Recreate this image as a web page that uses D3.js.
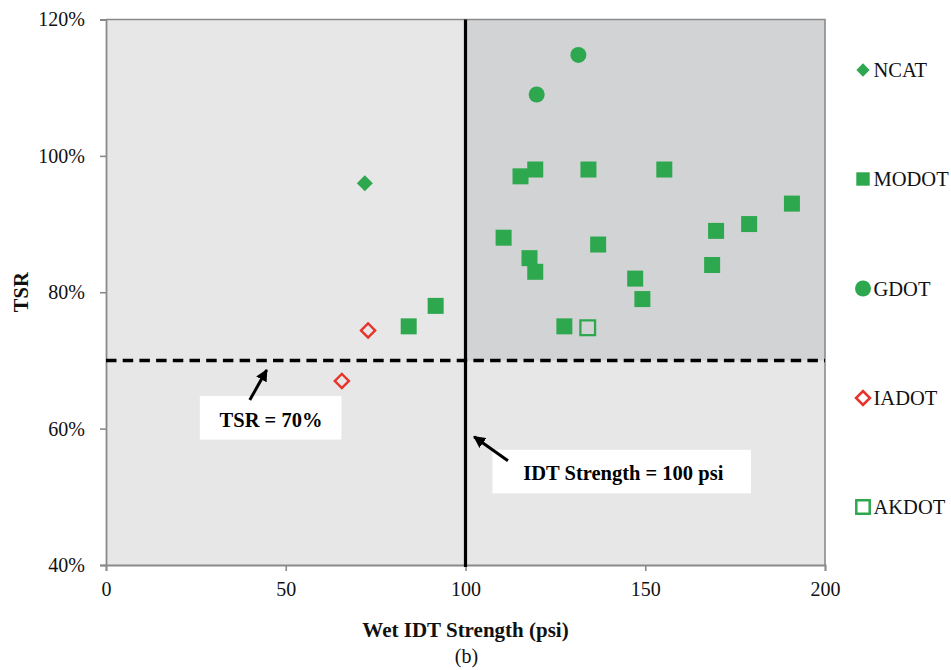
<!DOCTYPE html>
<html>
<head>
<meta charset="utf-8">
<script src="https://cdn.jsdelivr.net/npm/d3@7/dist/d3.min.js"></script>
<style>
  html, body { margin: 0; padding: 0; background: #ffffff; }
  svg { display: block; }
  svg text { font-family: "Liberation Serif", "Times New Roman", Times, "DejaVu Serif", serif; }
</style>
</head>
<body>
<svg id="chart" width="951" height="670"></svg>
<script>
// Wet IDT strength (psi) vs. tensile strength ratio (%) by agency
const ncat  = [[72, 96]];
const modot = [[115.3, 97], [119.4, 98], [134.2, 98], [155.3, 98], [190.8, 93],
               [178.9, 90], [169.7, 89], [110.6, 88], [136.9, 87], [117.8, 85],
               [168.6, 84], [119.4, 83], [147.2, 82], [149.2, 79], [127.5, 75],
               [84.2, 75], [91.7, 78]];
const gdot  = [[131.4, 114.8], [119.8, 109]];
const iadot = [[72.9, 74.4], [65.6, 67]];
const akdot = [[134, 74.8]];

const xTicks = [0, 50, 100, 150, 200];
const yTicks = [40, 60, 80, 100, 120];

const idtLimit = 100;   // psi
const tsrLimit = 70;    // %

const legendNames = ["NCAT", "MODOT", "GDOT", "IADOT", "AKDOT"];

const serif = "'Liberation Serif', 'Times New Roman', Times, serif";
const green = "#2ea84f";
const red = "#e8332a";

const svg = d3.select("#chart");
const m = { left: 106, right: 825, top: 19.5, bottom: 565 };

const x = d3.scaleLinear().domain([0, 200]).range([m.left, m.right]);
const y = d3.scaleLinear().domain([40, 120]).range([m.bottom, m.top]);

// Quadrant backgrounds
svg.append("rect")
  .attr("x", x(0)).attr("y", y(120))
  .attr("width", x(200) - x(0)).attr("height", y(40) - y(120))
  .attr("fill", "#e6e7e6");
svg.append("rect")
  .attr("x", x(idtLimit)).attr("y", y(120))
  .attr("width", x(200) - x(idtLimit)).attr("height", y(tsrLimit) - y(120))
  .attr("fill", "#d2d3d5");

// Plot frame (top and right)
svg.append("path")
  .attr("d", `M${x(0)},${y(120)}H${x(200)}V${y(40)}`)
  .attr("fill", "none").attr("stroke", "#8a8a8a").attr("stroke-width", 1.6);

// Axes
const xAxis = d3.axisBottom(x).tickValues(xTicks).tickSize(6).tickPadding(10.5).tickFormat(d3.format("d"));
const yAxis = d3.axisLeft(y).tickValues(yTicks).tickSize(6).tickPadding(15).tickFormat(d => d + "%");

const gx = svg.append("g").attr("transform", `translate(0,${m.bottom})`).call(xAxis);
const gy = svg.append("g").attr("transform", `translate(${m.left},0)`).call(yAxis);
[gx, gy].forEach(g => {
  g.attr("font-family", serif).attr("font-size", 20);
  g.select(".domain").attr("stroke", "#8a8a8a").attr("stroke-width", 1.8);
  g.selectAll(".tick line").attr("stroke", "#8a8a8a").attr("stroke-width", 1.6);
  g.selectAll(".tick text")
    .attr("fill", "#111")
    .attr("font-family", serif)
    .attr("font-size", 20);
});

// Threshold lines
svg.append("line")
  .attr("x1", x(0)).attr("x2", x(200))
  .attr("y1", y(tsrLimit)).attr("y2", y(tsrLimit))
  .attr("stroke", "#000").attr("stroke-width", 3.5)
  .attr("stroke-dasharray", "10.5,6.2");
svg.append("line")
  .attr("x1", x(idtLimit)).attr("x2", x(idtLimit))
  .attr("y1", y(120)).attr("y2", y(40) + 2)
  .attr("stroke", "#000").attr("stroke-width", 3.2);

// Marker shapes
const sym = (type, size) => d3.symbol().type(type).size(size)();
const markers = {
  NCAT:  { path: sym(d3.symbolSquare, 128), rot: 45, fill: green, stroke: "none", sw: 0 },
  MODOT: { path: sym(d3.symbolSquare, 256), rot: 0,  fill: green, stroke: "none", sw: 0 },
  GDOT:  { path: sym(d3.symbolCircle, 201), rot: 0,  fill: green, stroke: "none", sw: 0 },
  IADOT: { path: sym(d3.symbolSquare, 100), rot: 45, fill: "none", stroke: red, sw: 2.4 },
  AKDOT: { path: sym(d3.symbolSquare, 215), rot: 0,  fill: "none", stroke: green, sw: 2.3 }
};
const legendMarkers = {
  NCAT:  { path: sym(d3.symbolSquare, 88),  rot: 45, fill: green, stroke: "none", sw: 0 },
  MODOT: { path: sym(d3.symbolSquare, 180), rot: 0,  fill: green, stroke: "none", sw: 0 },
  GDOT:  { path: sym(d3.symbolCircle, 201), rot: 0,  fill: green, stroke: "none", sw: 0 },
  IADOT: { path: sym(d3.symbolSquare, 96),  rot: 45, fill: "none", stroke: red, sw: 2.6 },
  AKDOT: { path: sym(d3.symbolSquare, 180), rot: 0,  fill: "none", stroke: green, sw: 2.5 }
};

const series = [
  { name: "NCAT", data: ncat },
  { name: "MODOT", data: modot },
  { name: "GDOT", data: gdot },
  { name: "IADOT", data: iadot },
  { name: "AKDOT", data: akdot }
];

series.forEach(s => {
  const mk = markers[s.name];
  svg.append("g").selectAll("path")
    .data(s.data)
    .join("path")
    .attr("d", mk.path)
    .attr("transform", d => `translate(${x(d[0])},${y(d[1])}) rotate(${mk.rot})`)
    .attr("fill", mk.fill)
    .attr("stroke", mk.stroke)
    .attr("stroke-width", mk.sw);
});

// Annotations (positioned in data units)
svg.append("defs").append("marker")
  .attr("id", "arrowhead")
  .attr("viewBox", "0 0 10 10")
  .attr("refX", 9).attr("refY", 5)
  .attr("markerWidth", 4).attr("markerHeight", 4)
  .attr("orient", "auto")
  .append("path").attr("d", "M0,0L10,5L0,10Z").attr("fill", "#000");

const notes = [
  { text: "TSR = 70%", box: [26.1, 65.5, 64.8, 58.4], tx: 45.9, ty: 60.3,
    arrow: [[40, 64.2], [44.7, 68.6]] },
  { text: "IDT Strength = 100 psi", box: [107.5, 179.4, 56.9, 50.5], tx: 143.9, ty: 52.5,
    arrow: [[111.8, 55.3], [102.4, 58.8]] }
];

notes.forEach(n => {
  svg.append("rect")
    .attr("x", x(n.box[0])).attr("y", y(n.box[2]))
    .attr("width", x(n.box[1]) - x(n.box[0]))
    .attr("height", y(n.box[3]) - y(n.box[2]))
    .attr("fill", "#ffffff");
  svg.append("text")
    .attr("x", x(n.tx)).attr("y", y(n.ty))
    .attr("text-anchor", "middle")
    .attr("font-family", serif)
    .attr("font-size", 20.5).attr("font-weight", "bold")
    .attr("fill", "#000")
    .text(n.text);
  svg.append("line")
    .attr("x1", x(n.arrow[0][0])).attr("y1", y(n.arrow[0][1]))
    .attr("x2", x(n.arrow[1][0])).attr("y2", y(n.arrow[1][1]))
    .attr("stroke", "#000").attr("stroke-width", 3)
    .attr("marker-end", "url(#arrowhead)");
});

// Axis titles
svg.append("text")
  .attr("x", x(100)).attr("y", 636.5)
  .attr("text-anchor", "middle")
  .attr("font-family", serif)
  .attr("font-size", 21).attr("font-weight", "bold")
  .attr("fill", "#111")
  .text("Wet IDT Strength (psi)");
svg.append("text")
  .attr("x", x(100) + 1).attr("y", 663)
  .attr("text-anchor", "middle")
  .attr("font-family", serif)
  .attr("font-size", 20)
  .attr("fill", "#111")
  .text("(b)");
svg.append("text")
  .attr("transform", `translate(28,${y(80)}) rotate(-90)`)
  .attr("text-anchor", "middle")
  .attr("font-family", serif)
  .attr("font-size", 20.5).attr("font-weight", "bold")
  .attr("fill", "#111")
  .text("TSR");

// Legend
const legendY = [70, 179, 288.5, 398, 507];
const legend = svg.append("g");
legendNames.forEach((name, i) => {
  const mk = legendMarkers[name];
  legend.append("path")
    .attr("d", mk.path)
    .attr("transform", `translate(863,${legendY[i]}) rotate(${mk.rot})`)
    .attr("fill", mk.fill)
    .attr("stroke", mk.stroke)
    .attr("stroke-width", mk.sw);
  legend.append("text")
    .attr("x", 873.5).attr("y", legendY[i])
    .attr("dy", "0.35em")
    .attr("font-family", serif)
    .attr("font-size", 20.5)
    .attr("fill", "#111")
    .text(name);
});
</script>
</body>
</html>
